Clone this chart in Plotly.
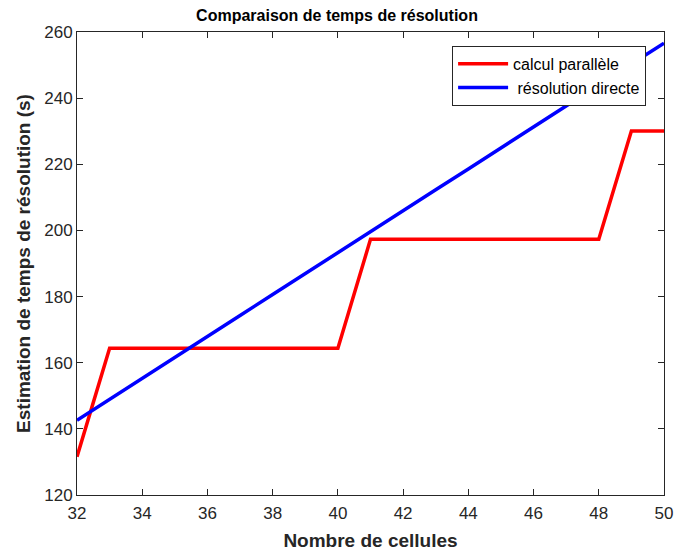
import plotly.graph_objects as go

cells = [32, 33, 34, 35, 36, 37, 38, 39, 40, 41, 42, 43, 44, 45, 46, 47, 48, 49, 50]
parallel = [131.6, 164.4, 164.4, 164.4, 164.4, 164.4, 164.4, 164.4, 164.4,
            197.3, 197.3, 197.3, 197.3, 197.3, 197.3, 197.3, 197.3, 230.1, 230.1]
direct = [142.6, 149.0, 155.3, 161.6, 168.0, 174.3, 180.6, 187.0, 193.3,
          199.6, 206.0, 212.3, 218.6, 225.0, 231.3, 237.6, 244.0, 250.3, 256.6]
x_ticks = [32, 34, 36, 38, 40, 42, 44, 46, 48, 50]
y_ticks = [120, 140, 160, 180, 200, 220, 240, 260]

fig = go.Figure()
fig.add_trace(go.Scatter(x=cells, y=parallel, mode="lines", name="calcul parallèle",
                         line=dict(color="#ff0000", width=3.5)))
fig.add_trace(go.Scatter(x=cells, y=direct, mode="lines", name=" résolution directe",
                         line=dict(color="#0000ff", width=3.5)))

axis_common = dict(showgrid=False, zeroline=False, showline=True, linecolor="#262626",
                   linewidth=1, mirror="ticks", ticks="inside", ticklen=6,
                   tickcolor="#262626", tickfont=dict(size=17, color="#262626"),
                   automargin=False)

fig.update_layout(
    width=674, height=551,
    margin=dict(l=77, r=10, t=32, b=56),
    paper_bgcolor="white", plot_bgcolor="white",
    font=dict(family="Liberation Sans, Arial, sans-serif", color="#262626"),
    title=dict(text="<b>Comparaison de temps de résolution</b>", x=0.5, xanchor="center",
               y=0.972, yanchor="middle", font=dict(size=16, color="black")),
    xaxis=dict(range=[32, 50], tickvals=x_ticks, ticklabelstandoff=3,
               title=dict(text="<b>Nombre de cellules</b>", font=dict(size=19, color="#262626"),
                          standoff=14),
               **axis_common),
    yaxis=dict(range=[120, 260], tickvals=y_ticks,
               title=dict(text="<b>Estimation de temps de résolution (s)</b>",
                          font=dict(size=19, color="#262626"), standoff=8),
               **axis_common),
    legend=dict(x=0.639, y=0.97, xanchor="left", yanchor="top",
                bgcolor="white", bordercolor="#262626", borderwidth=1,
                font=dict(size=16, color="black"), tracegroupgap=0, itemwidth=50),
    showlegend=True,
)

fig.write_html("out.html", config={"displayModeBar": False},
               post_script="document.body.style.margin='0';")
